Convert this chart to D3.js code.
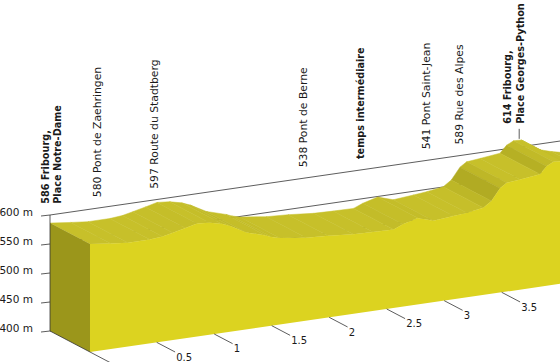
<!DOCTYPE html>
<html><head><meta charset="utf-8">
<script src="https://cdn.jsdelivr.net/npm/d3@7/dist/d3.min.js"></script>
<style>html,body{margin:0;padding:0;background:#fff;} svg{display:block;font-family:"DejaVu Sans",sans-serif;}</style>
</head><body>
<svg id="chart" width="560" height="362"></svg>
<script>
// ---- data ----
const distances  = [-0.08, 0.10, 0.25, 0.44, 0.55, 0.64, 0.75, 0.85, 0.96, 1.065, 1.14, 1.28, 1.45, 1.50, 1.57, 1.80, 1.99, 2.21, 2.38, 2.56, 2.64, 2.77, 2.905, 3.08, 3.196, 3.34, 3.41, 3.485, 3.543, 3.66, 3.833, 3.89, 3.95, 4.02, 4.094, 4.18, 4.28, 4.355, 4.45];
const elevations = [586, 582, 579, 579, 581, 585, 590, 595, 593, 588, 582, 567, 557, 553, 549, 543, 541, 537, 536, 535.5, 542, 549, 540.5, 543.6, 546, 550.5, 560, 580, 587.5, 590, 594, 606, 612, 611.5, 601, 590, 584, 580.6, 579];
const yTicks = [400, 450, 500, 550, 600];
const yTickLabels = ["400 m", "450 m", "500 m", "550 m", "600 m"];
const xTicks = [0.5, 1, 1.5, 2, 2.5, 3, 3.5];
const xTickLabels = ["0.5", "1", "1.5", "2", "2.5", "3", "3.5"];
const waypointNames = [
  ["586 Fribourg,", "Place Notre-Dame"],
  ["580 Pont de Zaehringen"],
  ["597 Route du Stadtberg"],
  ["538 Pont de Berne"],
  ["temps intermédiaire"],
  ["541 Pont Saint-Jean"],
  ["589 Rue des Alpes"],
  ["614 Fribourg,", "Place Georges-Python"]
];
const waypointDistances = [-0.067, 0.329, 0.833, 2.12, 2.616, 3.196, 3.485, 3.955];
const waypointBold = [true, false, false, false, true, false, false, true];
const finishDistance = 4.0;
const finishElevation = 614;

// ---- projection ----
const x = d3.scaleLinear().domain([-0.08, 4.45]).range([50, 50 + 115 * 4.53]);
const y = d3.scaleLinear().domain([400, 600]).range([331, 215]);
const depth = [40, 21];
const rise = 0.145;
const d0 = distances[0], dEnd = distances[distances.length - 1];
function P(d, e, z) {
  const xb = x(d);
  return [xb + depth[0] * z, y(e) - rise * (xb - x(d0)) + depth[1] * z];
}
const svg = d3.select("#chart");
const line = d3.line();

const cTop = "#c7c02a", cLeft = "#9b961b", cFront = "#dcd320";
const shade = d3.interpolateRgb(cLeft, cTop);

// back-plane grid lines
svg.append("g").selectAll("path").data(yTicks).join("path")
  .attr("d", t => line([P(d0, t, 0), P(dEnd, t, 0)]))
  .attr("stroke", "#333").attr("stroke-width", 0.8).attr("fill", "none");

// top facets (right to left for occlusion)
const pts = distances.map((d, i) => ({d, e: elevations[i]}));
const facets = d3.range(pts.length - 1).reverse();
function facetColor(i) {
  const a = pts[i], b = pts[i + 1];
  const ss = (y(a.e) - y(b.e)) / (x(b.d) - x(a.d));
  const c = 1 / Math.sqrt(1 + ss * ss);
  return shade(Math.pow(c, 1.3));
}
svg.append("g").selectAll("path").data(facets).join("path")
  .attr("d", i => {
    const a = pts[i], b = pts[i + 1];
    return line([P(a.d, a.e, 0), P(b.d, b.e, 0), P(b.d, b.e, 1), P(a.d, a.e, 1)]) + "Z";
  })
  .attr("fill", facetColor)
  .attr("stroke", facetColor)
  .attr("stroke-width", 0.5);

// left face
svg.append("path")
  .attr("d", line([P(d0, 400, 0), P(d0, elevations[0], 0), P(d0, elevations[0], 1), P(d0, 400, 1)]) + "Z")
  .attr("fill", cLeft);

// front face
const frontPts = pts.map(p => P(p.d, p.e, 1)).concat([P(dEnd, 400, 1), P(d0, 400, 1)]);
svg.append("path").attr("d", line(frontPts) + "Z").attr("fill", cFront);

// y axis
const yAxis = svg.append("g");
yAxis.append("path").attr("d", line([P(d0, 400, 0), P(d0, 600, 0)]))
  .attr("stroke", "#333").attr("stroke-width", 0.8);
yTicks.forEach((t, i) => {
  const p = P(d0, t, 0);
  yAxis.append("path").attr("d", line([[p[0] - 9, p[1] + 1], p]))
    .attr("stroke", "#333").attr("stroke-width", 0.8);
  yAxis.append("text").attr("x", 33).attr("y", p[1] + 1.3)
    .attr("text-anchor", "end").attr("font-size", 10.5).attr("fill", "#1a1a1a")
    .text(yTickLabels[i]);
});

// x axis (front bottom edge)
const xAxis = svg.append("g");
const s0 = P(d0, 400, 0);
xAxis.append("path").attr("d", line([s0, [s0[0] + depth[0] * 1.5, s0[1] + depth[1] * 1.5]]))
  .attr("stroke", "#333").attr("stroke-width", 0.8);
xTicks.forEach((t, i) => {
  const p = P(t, 400, 1);
  xAxis.append("path").attr("d", line([p, [p[0] + depth[0] * 0.46, p[1] + depth[1] * 0.46]]))
    .attr("stroke", "#333").attr("stroke-width", 0.8);
  xAxis.append("text").attr("x", p[0] + 19.5).attr("y", p[1] + 18.3)
    .attr("font-size", 10).attr("fill", "#1a1a1a").text(xTickLabels[i]);
});

// finish leader
const fp = P(finishDistance, finishElevation, 0);
svg.append("path").attr("d", line([fp, [fp[0], fp[1] - 10]]))
  .attr("stroke", "#333").attr("stroke-width", 0.8);

// waypoint labels
const lineGap = 12.7;
waypointNames.forEach((lines, i) => {
  const d = waypointDistances[i];
  const xc = x(d);
  const n = lines.length;
  const tx = xc + 3.5 - (n - 1) * lineGap / 2;
  let ty;
  if (i === waypointNames.length - 1) ty = fp[1] - 15;
  else ty = y(619) - rise * (xc - x(d0));
  const t = svg.append("text")
    .attr("transform", `translate(${tx},${ty}) rotate(-90)`)
    .attr("font-size", waypointBold[i] ? 9.7 : 10.8)
    .attr("font-weight", waypointBold[i] ? "bold" : "normal")
    .attr("fill", "#1a1a1a");
  lines.forEach((s, j) => {
    t.append("tspan").attr("x", 0).attr("y", j * lineGap).text(s);
  });
});
</script>
</body></html>
